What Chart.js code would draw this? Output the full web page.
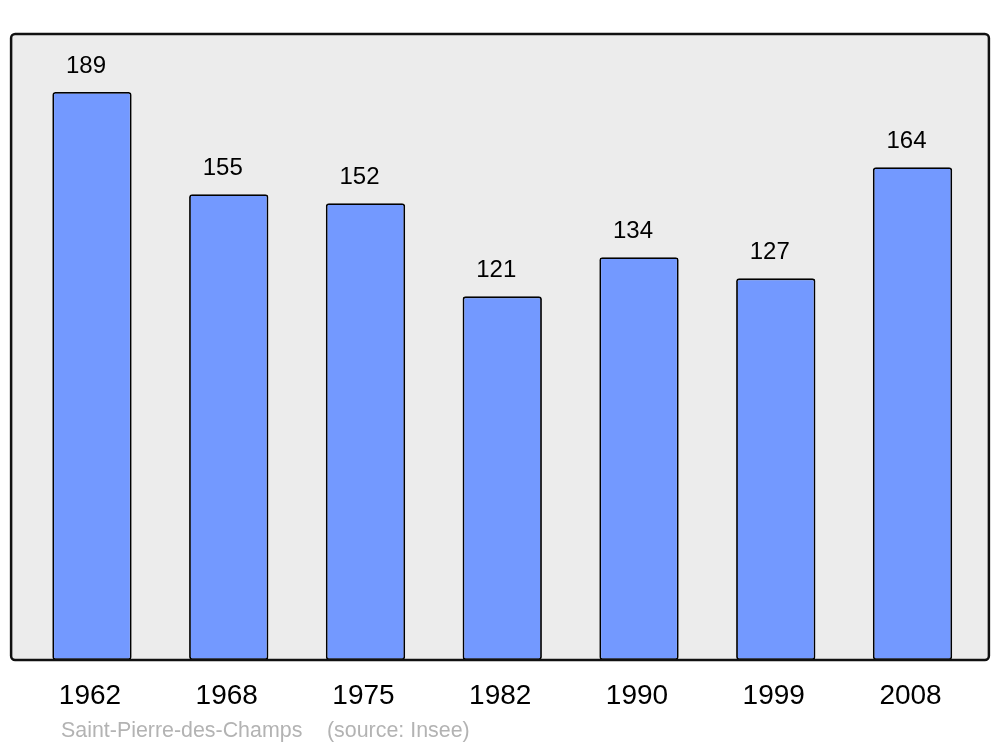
<!DOCTYPE html>
<html>
<head>
<meta charset="utf-8">
<script src="https://cdn.jsdelivr.net/npm/chart.js@4"></script>
<style>
  html, body { margin: 0; padding: 0; background: #fff; }
  #wrap { width: 1000px; height: 747px; }
</style>
</head>
<body>
<div id="wrap"><canvas id="popChart" width="1000" height="747"></canvas></div>
<script>
// ===== DATA =====
const years = ["1962", "1968", "1975", "1982", "1990", "1999", "2008"];
const population = [189, 155, 152, 121, 134, 127, 164];
const commune = "Saint-Pierre-des-Champs";
const source = "(source: Insee)";

// ===== PLUGINS =====
const frame = {
    id: "frame",
    beforeDraw(chart) {
        const { ctx, chartArea: a } = chart;
        ctx.save();
        ctx.beginPath();
        ctx.roundRect(a.left - 12.5, a.top, a.right - a.left + 20.5, a.bottom - a.top, 4);
        ctx.fillStyle = "#ececec";
        ctx.fill();
        ctx.restore();
    },
    afterDatasetsDraw(chart) {
        const { ctx, chartArea: a } = chart;
        ctx.save();
        ctx.beginPath();
        ctx.roundRect(a.left - 12.5, a.top, a.right - a.left + 20.5, a.bottom - a.top, 4);
        ctx.lineWidth = 2.5;
        ctx.strokeStyle = "#111";
        ctx.stroke();

        // valeurs au-dessus des barres
        ctx.fillStyle = "#000";
        ctx.font = "24px 'Liberation Sans', Arial, sans-serif";
        ctx.textAlign = "center";
        ctx.textBaseline = "alphabetic";
        chart.getDatasetMeta(0).data.forEach((bar, i) => {
            ctx.fillText(population[i], bar.x - 6, bar.y - 19);
        });

        // source
        ctx.fillStyle = "#b3b3b3";
        ctx.font = "21.4px 'Liberation Sans', Arial, sans-serif";
        ctx.textAlign = "left";
        ctx.fillText(commune, 61, 737);
        ctx.fillText(source, 327, 737);
        ctx.restore();
    }
};

// ===== GRAFIK =====
new Chart(document.getElementById("popChart"), {
    type: "bar",
    data: {
        labels: years,
        datasets: [{
            data: population,
            backgroundColor: "#7399ff",
            borderColor: "#000",
            borderWidth: 1.8,
            borderRadius: 3,
            borderSkipped: false,
            barPercentage: 0.58,
            categoryPercentage: 1
        }]
    },
    options: {
        responsive: false,
        animation: false,
        layout: {
            padding: { left: 23.6, right: 19.1, top: 34, bottom: 0 }
        },
        plugins: {
            legend: { display: false },
            tooltip: { enabled: false }
        },
        scales: {
            x: {
                grid: { display: false, drawTicks: false },
                border: { display: false },
                ticks: {
                    color: "#000",
                    padding: 19,
                    labelOffset: -2,
                    font: { size: 28, family: "'Liberation Sans', Arial, sans-serif" }
                },
                afterFit(scale) { scale.height = 87; }
            },
            y: {
                display: false,
                min: 0,
                max: 208.3
            }
        }
    },
    plugins: [frame]
});
</script>
</body>
</html>
